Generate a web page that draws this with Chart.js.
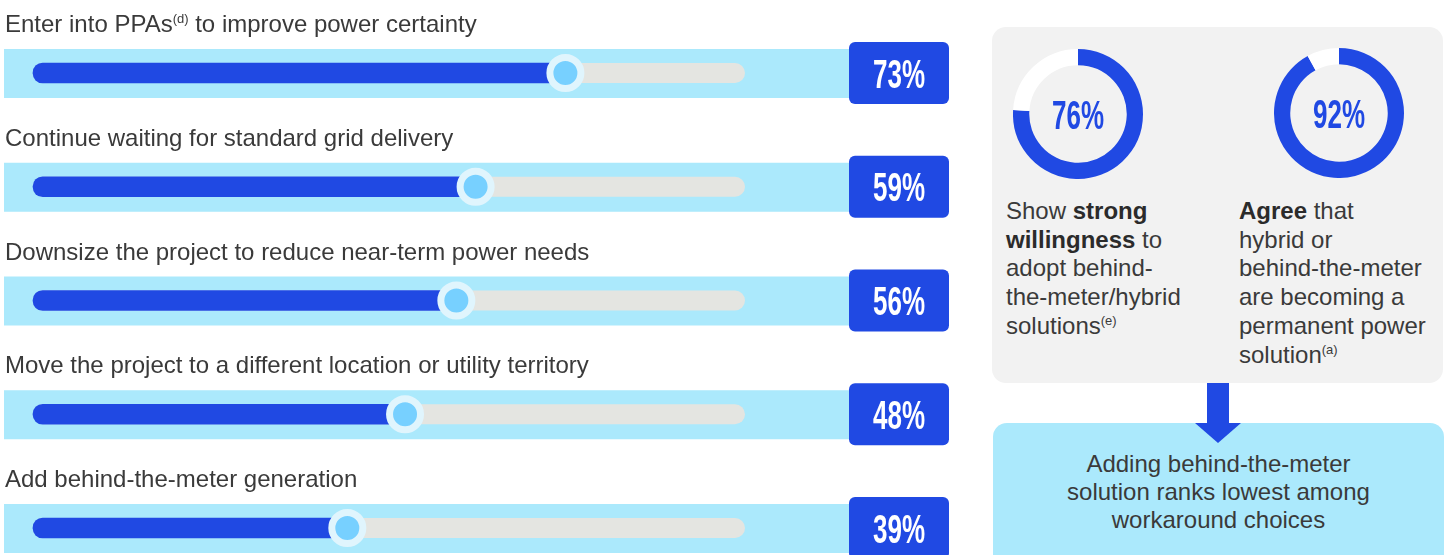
<!DOCTYPE html>
<html>
<head>
<meta charset="utf-8">
<script src="https://cdn.jsdelivr.net/npm/chart.js@4.4.1/dist/chart.umd.min.js"></script>
<style>
  body { margin: 0; background: #fff; font-family: "Liberation Sans", Arial, sans-serif; }
  #page { position: relative; width: 1450px; height: 555px; overflow: hidden; }
  #bars { position: absolute; left: 0; top: 0; }
  #panel { position: absolute; left: 992px; top: 27px; width: 451px; height: 356px; background: #f2f2f2; border-radius: 14px; }
  .donut { position: absolute; }
  .note { position: absolute; top: 197px; font-size: 24px; line-height: 28.7px; color: #3a3a3a; white-space: nowrap; }
  .note b { color: #2b2b2b; }
  .sup { font-size: 13px; vertical-align: 9px; line-height: 0; }
  #stem { position: absolute; left: 1207px; top: 383px; width: 22px; height: 42px; background: #2049e3; }
  #box { position: absolute; left: 993px; top: 423px; width: 451px; height: 150px; background: #abe9fc; border-radius: 14px; }
  #head { position: absolute; left: 1195px; top: 423px; width: 0; height: 0; border-left: 23px solid transparent; border-right: 23px solid transparent; border-top: 20px solid #2049e3; }
  #boxText { position: absolute; left: 993px; top: 450px; width: 451px; text-align: center; font-size: 24px; line-height: 28px; color: #3a3a3a; }
</style>
</head>
<body>
<div id="page">
  <canvas id="bars" width="960" height="555"></canvas>

  <div id="panel"></div>
  <canvas class="donut" id="donut0" width="130" height="130" style="left:1013px;top:49px"></canvas>
  <canvas class="donut" id="donut1" width="130" height="130" style="left:1274px;top:48px"></canvas>
  <div class="note" style="left:1006px">Show <b>strong</b><br><b>willingness</b> to<br>adopt behind-<br>the-meter/hybrid<br>solutions<span class="sup">(e)</span></div>
  <div class="note" style="left:1239px"><b>Agree</b> that<br>hybrid or<br>behind-the-meter<br>are becoming a<br>permanent power<br>solution<span class="sup">(a)</span></div>

  <div id="stem"></div>
  <div id="box"></div>
  <div id="head"></div>
  <div id="boxText">Adding behind-the-meter<br>solution ranks lowest among<br>workaround choices</div>
</div>

<script>
// options asked about, {..} = footnote superscript
var options = [
  'Enter into PPAs{(d)} to improve power certainty',
  'Continue waiting for standard grid delivery',
  'Downsize the project to reduce near-term power needs',
  'Move the project to a different location or utility territory',
  'Add behind-the-meter generation'
];
var shares = [73, 59, 56, 48, 39];

// donuts on the right
var donutValues = [76, 92];

var BLUE = '#2049e3';
var trackMin = -10, trackMax = 101;

function bigNumber(ctx, text, x, y, color) {
  ctx.save();
  ctx.font = 'bold 41px "Liberation Sans", Arial, sans-serif';
  var w = ctx.measureText('00%').width;
  ctx.translate(x, y);
  ctx.scale(52 / w, 1);
  ctx.fillStyle = color;
  ctx.textAlign = 'center';
  ctx.textBaseline = 'alphabetic';
  ctx.fillText(text, 0, 0);
  ctx.restore();
}

function drawLabel(ctx, label, x, y) {
  var parts = label.split(/\{(.*?)\}/);
  ctx.save();
  ctx.fillStyle = '#3a3a3a';
  ctx.textBaseline = 'alphabetic';
  ctx.textAlign = 'left';
  parts.forEach(function (p, k) {
    if (k % 2 === 1) {
      ctx.font = '13px "Liberation Sans", Arial, sans-serif';
      ctx.fillText(p, x, y - 9);
    } else {
      ctx.font = '24px "Liberation Sans", Arial, sans-serif';
      ctx.fillText(p, x, y);
    }
    x += ctx.measureText(p).width;
  });
  ctx.restore();
}

var rowDecor = {
  id: 'rowDecor',
  beforeDatasetsDraw: function (chart) {
    var ctx = chart.ctx, area = chart.chartArea, y = chart.scales.y;
    options.forEach(function (label, i) {
      var cy = y.getPixelForValue(i);
      // light band
      ctx.fillStyle = '#abe9fc';
      ctx.fillRect(4, cy - 24, 944, 49);
      // grey track
      ctx.fillStyle = '#e4e5e1';
      ctx.beginPath();
      ctx.roundRect(area.left, cy - 10, area.right - area.left, 20, 10);
      ctx.fill();
      drawLabel(ctx, label, 5, cy - 41);
      // value badge
      ctx.fillStyle = BLUE;
      ctx.beginPath();
      ctx.roundRect(849, cy - 31, 100, 62, 6);
      ctx.fill();
      bigNumber(ctx, shares[i] + '%', 899, cy + 14.5, '#fff');
    });
  }
};

new Chart(document.getElementById('bars'), {
  type: 'bar',
  data: {
    labels: options.map(function (s) { return s.replace(/[{}]/g, ''); }),
    datasets: [{
      type: 'line',
      indexAxis: 'y',
      data: shares,
      showLine: false,
      pointRadius: 15.5,
      pointBorderWidth: 7,
      pointBackgroundColor: '#77d0ff',
      pointBorderColor: '#e0f5fd',
      order: 0,
      clip: false
    }, {
      indexAxis: 'y',
      data: shares,
      base: trackMin,
      backgroundColor: BLUE,
      borderRadius: 10,
      borderSkipped: false,
      barThickness: 20,
      order: 1,
      clip: false
    }]
  },
  options: {
    indexAxis: 'y',
    responsive: false,
    animation: false,
    events: [],
    layout: { padding: { left: 33, right: 215, top: 73, bottom: 27 } },
    scales: {
      x: { display: false, min: trackMin, max: trackMax },
      y: { display: false, offset: false }
    },
    plugins: { legend: { display: false }, tooltip: { enabled: false } }
  },
  plugins: [rowDecor]
});

var centerText = {
  id: 'centerText',
  afterDatasetsDraw: function (chart) {
    var arc = chart.getDatasetMeta(0).data[0];
    bigNumber(chart.ctx, chart.data.datasets[0].data[0] + '%', arc.x, arc.y + 15, BLUE);
  }
};

donutValues.forEach(function (v, i) {
  new Chart(document.getElementById('donut' + i), {
    type: 'doughnut',
    data: {
      labels: ['yes', 'other'],
      datasets: [{
        data: [v, 100 - v],
        backgroundColor: [BLUE, '#ffffff'],
        borderWidth: 0,
        hoverOffset: 0
      }]
    },
    options: {
      responsive: false,
      animation: false,
      events: [],
      cutout: '75%',
      plugins: { legend: { display: false }, tooltip: { enabled: false } }
    },
    plugins: [centerText]
  });
});
</script>
</body>
</html>
